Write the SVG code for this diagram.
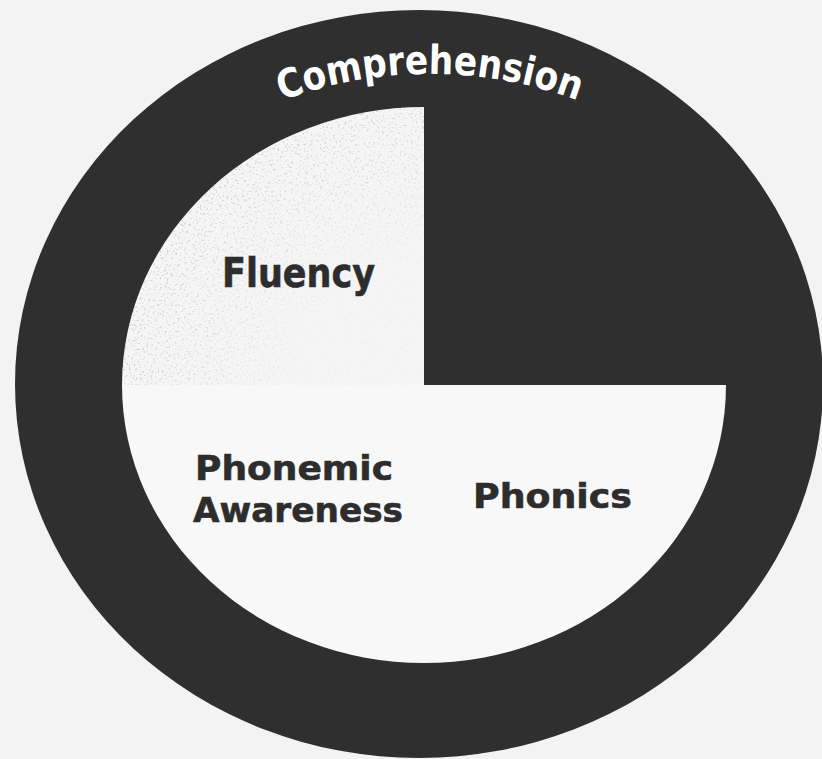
<svg xmlns="http://www.w3.org/2000/svg" xmlns:xlink="http://www.w3.org/1999/xlink" width="822" height="759" viewBox="0 0 822 759">
  <style>
    .dark { fill: #2f2f2f; }
    .light { fill: #f8f8f8; }
    .lbl { font-family: "DejaVu Sans", Verdana, "Liberation Sans", sans-serif; font-weight: bold; fill: #2d2d2d; stroke: #2d2d2d; stroke-width: 0.6; }
    .ring-lbl { font-family: "DejaVu Sans", Verdana, "Liberation Sans", sans-serif; font-weight: bold; font-size: 40px; fill: #ffffff; }
  </style>
  <defs>
    <path id="arc" d="M 200 142 A 422 422 0 0 1 660 142" fill="none"/>
    <filter id="speckle" x="0" y="0" width="100%" height="100%" filterUnits="userSpaceOnUse">
      <feTurbulence type="fractalNoise" baseFrequency="0.45" numOctaves="2" seed="7" result="n"/>
      <feColorMatrix in="n" type="matrix" values="0 0 0 0 0.6  0 0 0 0 0.6  0 0 0 0 0.6  9 0 0 0 -5.3" result="dots"/>
      <feComposite in="dots" in2="SourceAlpha" operator="in"/>
    </filter>
    <radialGradient id="fade" gradientUnits="userSpaceOnUse" cx="424" cy="385" r="300">
      <stop offset="0.4" stop-color="#fff" stop-opacity="0.15"/>
      <stop offset="1" stop-color="#fff" stop-opacity="1"/>
    </radialGradient>
    <mask id="fadeMask">
      <rect x="0" y="0" width="822" height="759" fill="url(#fade)"/>
    </mask>
  </defs>

  <rect x="0" y="0" width="822" height="759" fill="#f3f3f3"/>

  <g id="comprehension">
    <ellipse class="dark" cx="419" cy="384" rx="404" ry="374"/>
    <text class="ring-lbl" textLength="302" lengthAdjust="spacingAndGlyphs"><textPath xlink:href="#arc" href="#arc" startOffset="50%" text-anchor="middle" textLength="302" lengthAdjust="spacingAndGlyphs">Comprehension</textPath></text>
  </g>

  <g id="fluency">
    <path d="M 424 385 L 424 107 A 302 278 0 0 0 122 385 Z" fill="#f5f5f5"/>
    <g mask="url(#fadeMask)" opacity="0.8">
      <path d="M 424 385 L 424 107 A 302 278 0 0 0 122 385 Z" fill="#000" filter="url(#speckle)"/>
    </g>
    <text class="lbl" x="222" y="287" font-size="40" textLength="153" lengthAdjust="spacingAndGlyphs">Fluency</text>
  </g>

  <g id="phonemic-awareness">
    <path class="light" d="M 424 385 L 122 385 A 302 278 0 0 0 424 663 Z"/>
    <text class="lbl" x="195" y="480" font-size="34" textLength="198" lengthAdjust="spacingAndGlyphs">Phonemic</text>
    <text class="lbl" x="193" y="522" font-size="34" textLength="210" lengthAdjust="spacingAndGlyphs">Awareness</text>
  </g>

  <g id="phonics">
    <path class="light" d="M 424 385 L 424 663 A 302 278 0 0 0 726 385 Z"/>
    <text class="lbl" x="473" y="508" font-size="34" textLength="159" lengthAdjust="spacingAndGlyphs">Phonics</text>
  </g>

  <g id="connectors"/>
</svg>
